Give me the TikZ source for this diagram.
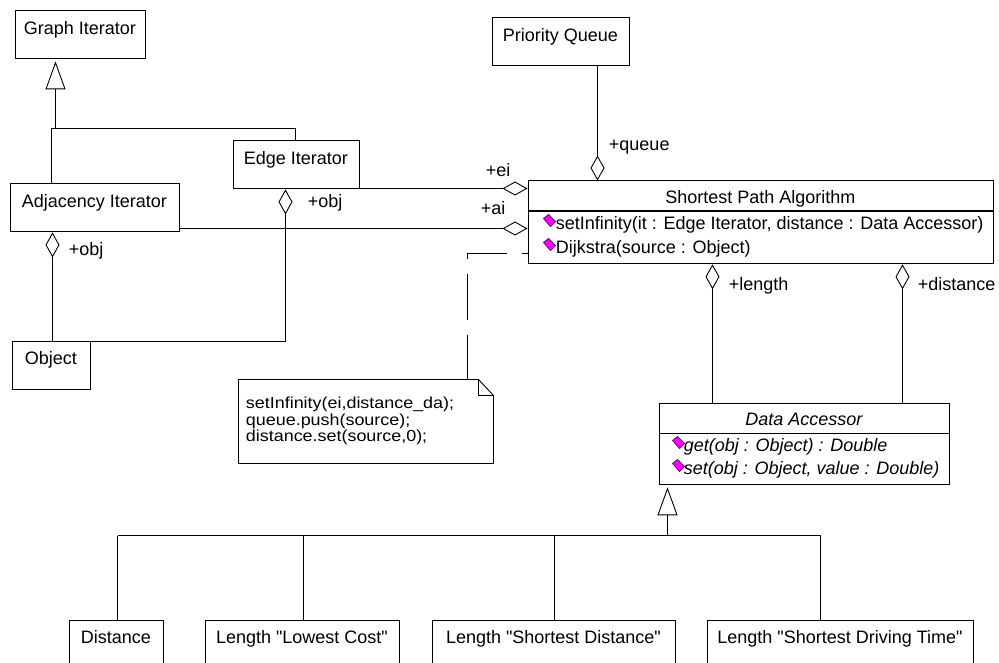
\documentclass[tikz,border=0pt]{standalone}
\usepackage{fontspec}
\setmainfont{Liberation Sans}[Ligatures=TeXOff]
\usetikzlibrary{arrows.meta}
\definecolor{opmagenta}{RGB}{255,0,255}
\definecolor{opedge}{RGB}{80,0,110}

\begin{document}
\begin{tikzpicture}[x=1pt, y=-1pt, line width=0.9pt,
    font=\fontsize{18}{21}\selectfont,
    ital/.style={font=\fontsize{18}{21}\selectfont\itshape},
    notefont/.style={font=\fontsize{16}{16}\selectfont},
    classbox/.style={draw, inner xsep=0pt, inner ysep=0pt, anchor=north west,
                     text height=23.5pt, text depth=24.5pt},
    compbox/.style={draw, inner xsep=0pt, inner ysep=0pt, anchor=north west},
    aggr/.style={{Diamond[open, length=25pt, width=14pt]}-},
    genl/.style={-{Triangle[open, length=28pt, width=20pt]}, shorten >=2pt},
    role/.style={anchor=base west, inner sep=0pt},
    oprow/.style={anchor=base west, inner sep=0pt},
    opicon/.pic={\filldraw[fill=opmagenta, draw=opedge, line width=0.7pt]
        (-6,-2) -- (-1,-6) -- (6,1) -- (1,6) -- cycle;}]
  \useasboundingbox (0,0) rectangle (999,663);
  \clip (0,0) rectangle (999,663);
  \fill[white] (0,0) rectangle (999,663);

  \begin{scope}[shift={(0.5,0.5)}]
  % iterators, object, queue
  \node[classbox, minimum width=130] (gi) at (14,10) {Graph Iterator};
  \node[classbox, minimum width=169] (adj) at (9,183) {Adjacency Iterator};
  \node[classbox, minimum width=126] (ei) at (232,140) {Edge Iterator};
  \node[classbox, minimum width=78] (obj) at (11,340) {Object};
  \node[classbox, minimum width=137] (pq) at (491,17) {Priority Queue};

  % shortest path algorithm
  \node[compbox, minimum width=465, text height=22.5pt, text depth=7.5pt] (spa) at (527,180) {Shortest Path Algorithm};
  \node[compbox, minimum width=465, minimum height=52] (spaops) at (spa.south west) {};
  \node[oprow] (setinf) at (555,229) {setInfinity(it : Edge Iterator, distance : Data Accessor)};
  \node[oprow] (dijk) at (555,253) {Dijkstra(source : Object)};
  \pic at (549,220) {opicon};
  \pic at (549,244) {opicon};

  % data accessor
  \node[compbox, ital, minimum width=290, text height=23pt, text depth=7pt] (da) at (658,402) {Data Accessor};
  \node[compbox, minimum width=290, minimum height=51] (daops) at (da.south west) {};
  \node[oprow, ital] (get) at (683,451) {get(obj : Object) : Double};
  \node[oprow, ital] (set) at (683,474) {set(obj : Object, value : Double)};
  \pic at (678,442) {opicon};
  \pic at (678,465) {opicon};

  % subclasses of data accessor
  \coordinate (djoin) at (667,535);
  \foreach \nm/\x/\w/\stem/\txt in {dist/68/94/49/Distance,
      lowc/204/194/99/Length "Lowest Cost",
      shd/431/243/123/Length "Shortest Distance",
      sdt/706/266/114/Length "Shortest Driving Time"} {
    \node[classbox, minimum width=\w, text depth=30pt] (\nm) at (\x,619) {\txt};
    \coordinate (\nm-top) at ([xshift=\stem pt]\nm.north west);
    \draw (\nm-top) -- (\nm-top |- djoin);
  }
  \draw (dist-top |- djoin) -- (sdt-top |- djoin);
  \draw[genl] (djoin) -- ([xshift=9pt]daops.south west);

  % generalization of iterators
  \coordinate (gjoin) at (55,128);
  \draw[genl] (gjoin) -- ([xshift=41pt]gi.south west);
  \draw ([xshift=42pt]adj.north west) |- (gjoin) -| ([xshift=63pt]ei.north west);

  % aggregations
  \coordinate (qend) at ([xshift=70pt]spa.north west);
  \draw[aggr] (qend) -- (qend |- pq.south);
  \coordinate (eiend) at ([yshift=-8pt]spa.north west);
  \draw[aggr] (eiend) -- (eiend -| ei.east);
  \coordinate (aiend) at ([yshift=-48pt]spa.north west);
  \draw[aggr] (aiend) -- (aiend -| adj.east);
  \coordinate (aoend) at ([xshift=43pt]adj.south west);
  \draw[aggr] (aoend) -- (aoend |- obj.north);
  \coordinate (eoend) at ([xshift=53pt]ei.south west);
  \draw[aggr] (eoend) |- ([yshift=-1pt]obj.north east);
  \coordinate (lend) at ([xshift=185pt]spaops.south west);
  \draw[aggr] (lend) -- (lend |- da.north);
  \coordinate (dend) at ([xshift=375pt]spaops.south west);
  \draw[aggr] (dend) -- (dend |- da.north);

  \node[role] (lqueue) at (608,150) {+queue};
  \node[role] (lei) at (485,176) {+ei};
  \node[role] (lai) at (480,214) {+ai};
  \node[role] (laobj) at (68,255) {+obj};
  \node[role] (leobj) at (307,207) {+obj};
  \node[role] (llen) at (728,290) {+length};
  \node[role] (ldist) at (917,290) {+distance};

  % note
  \draw (238,379) -- (478,379) -- (493,395) -- (493,463) -- (238,463) -- cycle;
  \draw (478,379) |- (493,395);
  \node[oprow, notefont] (note1) at (245,408) {\scalebox{1.12}[1]{setInfinity(ei,distance\_da);}};
  \node[oprow, notefont] (note2) at (245,424.5) {\scalebox{1.12}[1]{queue.push(source);}};
  \node[oprow, notefont] (note3) at (245,441) {\scalebox{1.12}[1]{distance.set(source,0);}};
  \coordinate (notetop) at (467,379);
  \coordinate (nend) at ([yshift=-73pt]spa.north west);
  \draw[dash pattern=on 45pt off 15pt] (notetop) |- (nend);
  \end{scope}
\end{tikzpicture}
\end{document}
